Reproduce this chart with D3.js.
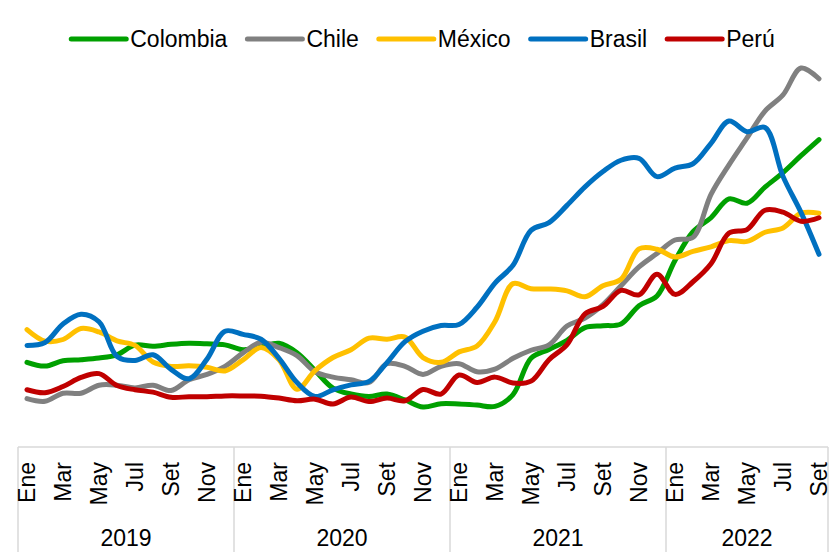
<!DOCTYPE html>
<html>
<head>
<meta charset="utf-8">
<script src="https://cdn.jsdelivr.net/npm/d3@7"></script>
<style>
  body { margin: 0; background: #fff; }
  text { font-family: "Liberation Sans", Arial, sans-serif; fill: #000; }
</style>
</head>
<body>
<div id="app"></div>
<script>
const width = 833,
  height = 556;

const years = ["2019", "2020", "2021", "2022"];
const monthNames = ["Ene", "Feb", "Mar", "Abr", "May", "Jun", "Jul", "Ago", "Set", "Oct", "Nov", "Dic"];

const countries = ["Colombia", "Chile", "México", "Brasil", "Perú"];
const colors = ["#00A000", "#808080", "#FFC000", "#0070C0", "#C00000"];

// inflacion 12 meses, ene-2019 a set-2022
const colombia = [3.15, 3.01, 3.21, 3.25, 3.31, 3.43, 3.79, 3.75, 3.82, 3.86, 3.84, 3.80,
  3.62, 3.72, 3.86, 3.51, 2.85, 2.19, 1.97, 1.88, 1.97, 1.75, 1.49, 1.61,
  1.60, 1.56, 1.51, 1.95, 3.30, 3.63, 3.97, 4.44, 4.51, 4.58, 5.26, 5.62,
  6.94, 8.01, 8.53, 9.23, 9.07, 9.67, 10.21, 10.84, 11.44];
const chile = [1.8, 1.7, 2.0, 2.0, 2.3, 2.3, 2.2, 2.3, 2.1, 2.5, 2.7, 3.0,
  3.5, 3.9, 3.7, 3.4, 2.8, 2.6, 2.5, 2.4, 3.1, 3.0, 2.7, 3.0,
  3.1, 2.8, 2.9, 3.3, 3.6, 3.8, 4.5, 4.8, 5.3, 6.0, 6.7, 7.2,
  7.7, 7.8, 9.4, 10.5, 11.5, 12.5, 13.1, 14.1, 13.7];
const mexico = [4.37, 3.94, 4.00, 4.41, 4.28, 3.95, 3.78, 3.16, 3.00, 3.02, 2.97, 2.83,
  3.24, 3.70, 3.25, 2.15, 2.84, 3.33, 3.62, 4.05, 4.01, 4.09, 3.33, 3.15,
  3.54, 3.76, 4.67, 6.08, 5.89, 5.88, 5.81, 5.59, 6.00, 6.24, 7.37, 7.36,
  7.07, 7.28, 7.45, 7.68, 7.65, 7.99, 8.15, 8.70, 8.70];
const brasil = [3.78, 3.89, 4.58, 4.94, 4.66, 3.37, 3.22, 3.43, 2.89, 2.54, 3.27, 4.31,
  4.19, 4.01, 3.30, 2.40, 1.88, 2.13, 2.31, 2.44, 3.14, 3.92, 4.31, 4.52,
  4.56, 5.20, 6.10, 6.76, 8.06, 8.35, 8.99, 9.68, 10.25, 10.67, 10.74, 10.06,
  10.38, 10.54, 11.30, 12.13, 11.73, 11.89, 10.07, 8.73, 7.17];
const peru = [2.13, 2.02, 2.25, 2.59, 2.73, 2.29, 2.13, 2.04, 1.85, 1.87, 1.87, 1.90,
  1.90, 1.89, 1.82, 1.72, 1.78, 1.60, 1.86, 1.69, 1.82, 1.72, 2.14, 1.97,
  2.68, 2.40, 2.60, 2.38, 2.45, 3.25, 3.81, 4.95, 5.23, 5.83, 5.66, 6.43,
  5.68, 6.15, 6.82, 7.96, 8.09, 8.81, 8.74, 8.40, 8.53];

const seriesValues = [colombia, chile, mexico, brasil, peru];

const nMonths = colombia.length;
const monthIdx = d3.range(nMonths);

const plot = { left: 18, right: 828, top: 17, bottom: 447 };

const svg = d3.select("#app")
  .append("svg")
  .attr("width", width)
  .attr("height", height);

const x = d3.scaleBand()
  .domain(monthIdx)
  .range([plot.left, plot.right]);

const y = d3.scaleLinear()
  .domain([0, 16])
  .range([plot.bottom, plot.top]);

const xc = i => x(i) + x.bandwidth() / 2;

// eje x
svg.append("line")
  .attr("x1", plot.left)
  .attr("x2", plot.right)
  .attr("y1", plot.bottom)
  .attr("y2", plot.bottom)
  .style("stroke", "#d9d9d9")
  .style("stroke-width", 1.5);

// separadores de año
const yearBounds = years.map((yr, i) => i * 12).concat([nMonths]);
svg.selectAll(".sep")
  .data(yearBounds)
  .join("line")
  .attr("class", "sep")
  .attr("x1", d => d < nMonths ? x(d) : plot.right)
  .attr("x2", d => d < nMonths ? x(d) : plot.right)
  .attr("y1", plot.bottom)
  .attr("y2", 552)
  .style("stroke", "#d9d9d9")
  .style("stroke-width", 1.5);

// etiquetas de mes
const labelled = monthIdx.filter(i => i % 2 === 0);
svg.selectAll(".month")
  .data(labelled)
  .join("text")
  .attr("class", "month")
  .attr("transform", d => `translate(${xc(d)},462) rotate(-90)`)
  .attr("dy", "0.35em")
  .attr("text-anchor", "end")
  .style("font-size", "23px")
  .text(d => monthNames[d % 12]);

// etiquetas de año
svg.selectAll(".year")
  .data(years)
  .join("text")
  .attr("class", "year")
  .attr("x", (d, i) => {
    const a = x(i * 12);
    const b = Math.min(i * 12 + 12, nMonths) < nMonths ? x(i * 12 + 12) : plot.right;
    return (a + b) / 2;
  })
  .attr("y", 546)
  .attr("text-anchor", "middle")
  .style("font-size", "23px")
  .text(d => d);

// lineas
const line = d3.line()
  .x((d, i) => xc(i))
  .y(d => y(d))
  .curve(d3.curveCatmullRom.alpha(0.5));

svg.append("g")
  .selectAll("path")
  .data(seriesValues)
  .join("path")
  .attr("d", d => line(d))
  .style("fill", "none")
  .style("stroke", (d, i) => colors[i])
  .style("stroke-width", 5)
  .style("stroke-linecap", "round")
  .style("stroke-linejoin", "round");

// leyenda
const legend = svg.append("g");
const swatch = 55, gapText = 4, gapItem = 20;
let cursor = 0;
countries.forEach((c, i) => {
  const g = legend.append("g").attr("transform", `translate(${cursor},0)`);
  g.append("line")
    .attr("x1", 0).attr("x2", swatch)
    .attr("y1", 0).attr("y2", 0)
    .style("stroke", colors[i])
    .style("stroke-width", 5)
    .style("stroke-linecap", "round");
  const t = g.append("text")
    .attr("x", swatch + gapText)
    .attr("dy", "0.35em")
    .style("font-size", "23px")
    .text(c);
  cursor += swatch + gapText + t.node().getComputedTextLength() + gapItem;
});
cursor -= gapItem;
legend.attr("transform", `translate(${(66 + 780) / 2 - cursor / 2},39)`);
</script>
</body>
</html>
